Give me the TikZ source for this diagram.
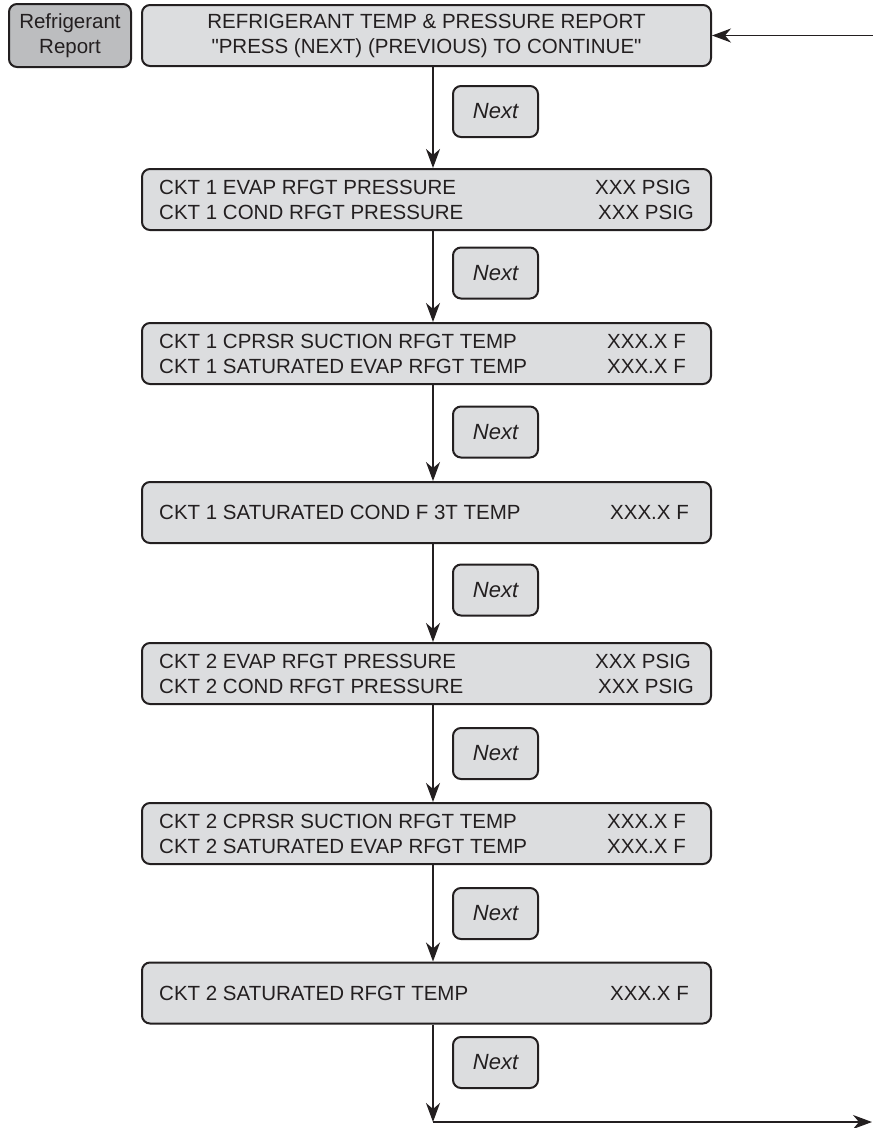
\documentclass[tikz,border=0pt]{standalone}
\usepackage{fontspec}
\setmainfont{Liberation Sans}
\newfontfamily\plainsans{Liberation Sans}
\usetikzlibrary{arrows.meta}
\definecolor{boxfill}{RGB}{220,221,223}
\definecolor{darkfill}{RGB}{188,189,191}
\definecolor{ink}{RGB}{35,31,32}
\begin{document}
\begin{tikzpicture}[x=1pt,y=-1pt,
  screen/.style={draw=ink, line width=2pt, fill=boxfill, rounded corners=8pt, minimum width=569pt, minimum height=61pt, inner sep=0pt},
  menubox/.style={draw=ink, line width=2pt, fill=darkfill, rounded corners=8pt, minimum width=122pt, minimum height=63pt, inner sep=0pt, align=center, font=\fontsize{20.5}{25}\selectfont, text=ink},
  nextbox/.style={draw=ink, line width=2pt, fill=boxfill, rounded corners=8pt, minimum width=85pt, minimum height=51pt, inner sep=0pt, font=\fontsize{22}{26}\selectfont\itshape, text=ink},
  txt/.style={anchor=base west, inner sep=0pt, font=\fontsize{20.5}{25}\selectfont, text=ink},
  flow/.style={draw=ink, line width=1.6pt, -{Stealth[length=19pt,width=14pt,inset=6pt]}}
]
\useasboundingbox (0,0) rectangle (873,1128);

% menu label
\node[menubox] (menu) at (70,35.5) {Refrigerant\\Report};

% header screen
\node[screen, align=center, font=\plainsans\fontsize{20.5}{25}\selectfont, text=ink] (h) at (426.5,35.5)
  {REFRIGERANT TEMP \& PRESSURE REPORT\\"PRESS (NEXT) (PREVIOUS) TO CONTINUE"};

% screens
\node[screen] (b2) at (426.5,199.5) {};
\node[screen] (b3) at (426.5,353.5) {};
\node[screen] (b4) at (426.5,512.5) {};
\node[screen] (b5) at (426.5,673.5) {};
\node[screen] (b6) at (426.5,833.5) {};
\node[screen] (b7) at (426.5,993) {};

% screen texts
\node[txt] (t2a) at (159,194.3) {CKT 1 EVAP RFGT PRESSURE};
\node[txt] (t2b) at (159,219.3) {CKT 1 COND RFGT PRESSURE};
\node[txt] (v2a) at (595,194.3) {XXX PSIG};
\node[txt] (v2b) at (598,219.3) {XXX PSIG};

\node[txt] (t3a) at (159,348.3) {CKT 1 CPRSR SUCTION RFGT TEMP};
\node[txt] (t3b) at (159,373.3) {CKT 1 SATURATED EVAP RFGT TEMP};
\node[txt] (v3a) at (607,348.3) {XXX.X F};
\node[txt] (v3b) at (607,373.3) {XXX.X F};

\node[txt] (t4) at (159,519.8) {CKT 1 SATURATED COND F 3T TEMP};
\node[txt] (v4) at (610,519.8) {XXX.X F};

\node[txt] (t5a) at (159,668.3) {CKT 2 EVAP RFGT PRESSURE};
\node[txt] (t5b) at (159,693.3) {CKT 2 COND RFGT PRESSURE};
\node[txt] (v5a) at (595,668.3) {XXX PSIG};
\node[txt] (v5b) at (598,693.3) {XXX PSIG};

\node[txt] (t6a) at (159,828.3) {CKT 2 CPRSR SUCTION RFGT TEMP};
\node[txt] (t6b) at (159,853.3) {CKT 2 SATURATED EVAP RFGT TEMP};
\node[txt] (v6a) at (607,828.3) {XXX.X F};
\node[txt] (v6b) at (607,853.3) {XXX.X F};

\node[txt] (t7) at (159,1000.3) {CKT 2 SATURATED RFGT TEMP};
\node[txt] (v7) at (610,1000.3) {XXX.X F};

% next buttons
\node[nextbox] (n1) at (495.5,111.5) {Next};
\node[nextbox] (n2) at (495.5,273) {Next};
\node[nextbox] (n3) at (495.5,432) {Next};
\node[nextbox] (n4) at (495.5,590) {Next};
\node[nextbox] (n5) at (495.5,753.5) {Next};
\node[nextbox] (n6) at (495.5,913.5) {Next};
\node[nextbox] (n7) at (495.5,1062.5) {Next};

% connectors
\coordinate (ax) at (433,0);
\coordinate (entry) at (873,35.5);
\coordinate (corner) at (433,1122);
\coordinate (exit) at (872,1122);

\draw[flow] (entry) -- (h.east);
\draw[flow] (h.south -| ax) -- (b2.north -| ax);
\draw[flow] (b2.south -| ax) -- (b3.north -| ax);
\draw[flow] (b3.south -| ax) -- (b4.north -| ax);
\draw[flow] (b4.south -| ax) -- (b5.north -| ax);
\draw[flow] (b5.south -| ax) -- (b6.north -| ax);
\draw[flow] (b6.south -| ax) -- (b7.north -| ax);
\draw[flow] (b7.south -| ax) -- (corner);
\draw[flow] (corner) -- (exit);
\end{tikzpicture}
\end{document}
